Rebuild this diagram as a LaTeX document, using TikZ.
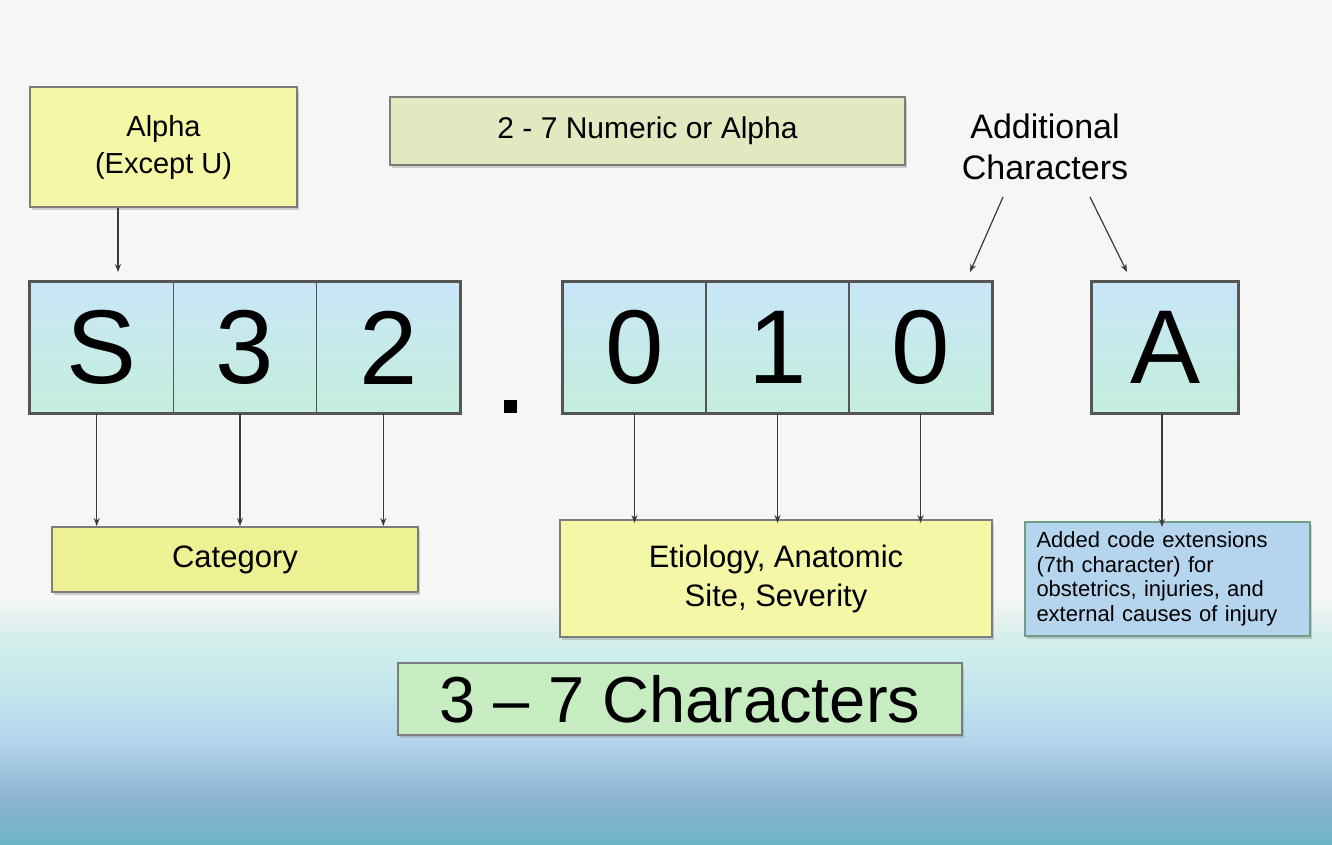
\documentclass[tikz,border=0pt]{standalone}
\usepackage{fontspec}
\setmainfont{Liberation Sans}
\usetikzlibrary{arrows.meta,shadows}
\definecolor{bgtop}{HTML}{F6F6F6}
\definecolor{yel}{HTML}{F4F7A6}
\definecolor{olivebox}{HTML}{E3E8C0}
\definecolor{yel2}{HTML}{EDF194}
\definecolor{cellblue}{HTML}{C8E6F8}
\definecolor{cellmint}{HTML}{C4EEDC}
\definecolor{bluebox}{HTML}{B5D5EE}
\definecolor{bluebord}{HTML}{6E9E86}
\definecolor{greenbox}{HTML}{C8ECC2}
\definecolor{bord}{HTML}{7C7C7C}
\definecolor{celbord}{HTML}{555555}
\definecolor{arrcol}{HTML}{3A3A3A}
\definecolor{ba}{HTML}{6CB4C6}
\definecolor{bb}{HTML}{8CB4D0}
\definecolor{bc}{HTML}{B5D5EE}
\definecolor{bd}{HTML}{C3E6EC}
\definecolor{be}{HTML}{D2EEEA}
\definecolor{bf}{HTML}{ECF2F2}
\pgfdeclareverticalshading{bgband}{100bp}{color(0bp)=(ba); color(25bp)=(ba); color(34bp)=(bb); color(46bp)=(bc); color(56bp)=(bd); color(66bp)=(be); color(72bp)=(bf); color(75bp)=(bgtop); color(100bp)=(bgtop)}
\newcommand\fsz[2]{\fontsize{#1}{#2}\selectfont}
\begin{document}
\begin{tikzpicture}[x=1pt,y=-1pt,
  box/.style={draw=bord, line width=2pt, inner sep=0pt, align=center,
    drop shadow={shadow xshift=1.5pt, shadow yshift=-2.5pt, opacity=0.35}},
  cell/.style={draw=celbord, line width=1.5pt, minimum width=143.3pt, minimum height=131pt,
    top color=cellblue, bottom color=cellmint, inner sep=0pt, font=\fsz{105}{110}},
  arr/.style={draw=arrcol, line width=1.2pt, -{Stealth[length=8pt,width=6pt]}}]
\useasboundingbox (0,0) rectangle (1332,844);
\fill[bgtop] (0,0) rectangle (1332,844);
\shade[shading=bgband] (0,596) rectangle (1332,844);

% top boxes
\node[box, fill=yel, minimum width=267pt, minimum height=120pt, font=\fsz{29}{37}] (alpha) at (163.5,147) {Alpha\\(Except U)};
\node[box, fill=olivebox, minimum width=515pt, minimum height=68pt, font=\fsz{30}{36}] (num) at (647.5,131) {2 - 7 Numeric or Alpha};
\node[align=center, inner sep=0pt, font=\fsz{34}{41}] (add) at (1045,147) {Additional\\Characters};

% cells
\node[cell] (s1) at (101.7,347.5) {S};
\node[cell] (s2) at (245,347.5) {3};
\node[cell] (s3) at (388.3,347.5) {2};
\node[cell] (z1) at (634.5,347.5) {0};
\node[cell] (z2) at (777.5,347.5) {1};
\node[cell] (z3) at (920.5,347.5) {0};
\node[cell, minimum width=146pt] (a1) at (1165,347.5) {A};
\draw[celbord, line width=2.5pt] (s1.north west) rectangle (s3.south east);
\draw[celbord, line width=2.5pt] (z1.north west) rectangle (z3.south east);
\draw[celbord, line width=2.5pt] (a1.north west) rectangle (a1.south east);
\node[fill=black, minimum size=13pt, inner sep=0pt] (dot) at (510,406) {};

% bottom boxes
\node[box, fill=yel2, minimum width=366pt, minimum height=65pt, font=\fsz{31}{37}] (cat) at (235,559.5) {Category};
\node[box, fill=yel, minimum width=432pt, minimum height=117pt, font=\fsz{31}{39}] (eti) at (776,578.5) {Etiology, Anatomic\\Site, Severity};
\node[box, draw=bluebord, fill=bluebox, minimum width=285pt, minimum height=114pt, text width=262pt, align=left, font=\fsz{22}{24.5}] (ext) at (1167.5,579) {Added code extensions\\(7th character) for\\obstetrics, injuries, and\\external causes of injury};
\node[box, fill=greenbox, minimum width=564pt, minimum height=72pt, font=\fsz{65}{70}] (chars) at (680,699) {3 -- 7 Characters};

% connectors
\coordinate (alphaend) at (118,272);
\draw[arr] (alpha.south -| alphaend) -- (alphaend);
\coordinate (addl) at (1003,197);
\coordinate (addr) at (1090,197);
\coordinate (t1) at (970,272);
\coordinate (t2) at (1127,272);
\draw[arr] (addl) -- (t1);
\draw[arr] (addr) -- (t2);
\foreach \c in {s1,s2,s3}{
  \draw[arr] ([xshift=-5pt]\c.south) -- ([xshift=-5pt]\c.south |- cat.north);
}
\foreach \c in {z1,z2,z3}{
  \draw[arr] (\c.south) -- ([yshift=-4pt]\c.south |- eti.north);
}
\draw[arr] ([xshift=-3pt]a1.south) -- ([xshift=-3pt,yshift=-6pt]a1.south |- ext.north);
\end{tikzpicture}
\end{document}
